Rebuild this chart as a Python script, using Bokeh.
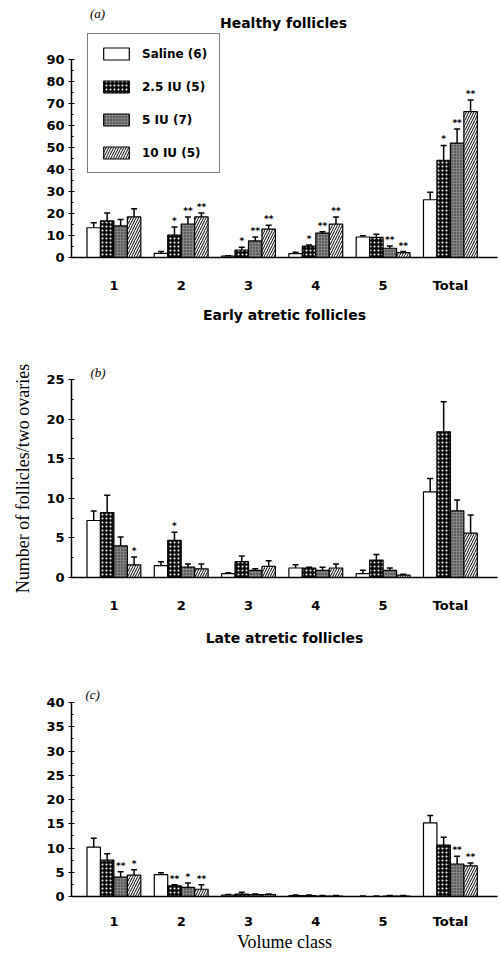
from bokeh.plotting import figure
from bokeh.models import (ColumnDataSource, Range1d, FixedTicker, Whisker, TeeHead,
                          Legend, LegendItem, Label, Title)
from bokeh.layouts import column
from bokeh.core.properties import value
from bokeh.embed import file_html
from bokeh.resources import INLINE

classes = ["1", "2", "3", "4", "5", "Total"]
series = ["Saline (6)", "2.5 IU (5)", "5 IU (7)", "10 IU (5)"]

# (a) Healthy follicles
saline_a = [13.5, 1.9, 0.6, 1.8, 9.3, 26.2]
saline_a_err = [15.8, 2.7, 0.8, 2.4, 9.9, 29.6]
iu25_a = [16.6, 10.2, 3.4, 5.2, 9.1, 44.1]
iu25_a_err = [20.2, 13.8, 4.6, 5.7, 10.5, 50.8]
iu5_a = [14.3, 15.2, 7.5, 11.1, 4.2, 51.9]
iu5_a_err = [17.2, 18.4, 9.3, 11.7, 5.2, 58.3]
iu10_a = [18.4, 18.4, 12.9, 15.1, 2.2, 66.2]
iu10_a_err = [22.1, 20.2, 14.6, 18.4, 2.7, 71.4]
stars_a = [["", "", "", "", "", ""],
           ["", "*", "*", "*", "", "*"],
           ["", "**", "**", "**", "**", "**"],
           ["", "**", "**", "**", "**", "**"]]

# (b) Early atretic follicles
saline_b = [7.2, 1.5, 0.5, 1.2, 0.5, 10.8]
saline_b_err = [8.4, 2.0, 0.6, 1.6, 0.9, 12.5]
iu25_b = [8.2, 4.7, 2.0, 1.2, 2.2, 18.4]
iu25_b_err = [10.4, 5.7, 2.7, 1.3, 2.9, 22.2]
iu5_b = [4.0, 1.3, 0.9, 0.9, 0.9, 8.4]
iu5_b_err = [5.1, 1.7, 1.1, 1.3, 1.2, 9.8]
iu10_b = [1.6, 1.1, 1.4, 1.2, 0.3, 5.6]
iu10_b_err = [2.6, 1.7, 2.1, 1.7, 0.4, 7.9]
stars_b = [["", "", "", "", "", ""],
           ["", "*", "", "", "", ""],
           ["", "", "", "", "", ""],
           ["*", "", "", "", "", ""]]

# (c) Late atretic follicles
saline_c = [10.2, 4.5, 0.3, 0.2, 0.0, 15.2]
saline_c_err = [12.0, 4.9, 0.4, 0.3, 0.1, 16.7]
iu25_c = [7.5, 2.2, 0.5, 0.2, 0.0, 10.6]
iu25_c_err = [8.8, 2.4, 0.9, 0.3, 0.1, 12.2]
iu5_c = [4.0, 1.9, 0.4, 0.1, 0.1, 6.7]
iu5_c_err = [5.1, 2.8, 0.5, 0.2, 0.2, 8.3]
iu10_c = [4.4, 1.5, 0.4, 0.1, 0.1, 6.3]
iu10_c_err = [5.5, 2.4, 0.5, 0.2, 0.2, 6.9]
stars_c = [["", "", "", "", "", ""],
           ["", "**", "", "", "", ""],
           ["**", "*", "", "", "", "**"],
           ["*", "**", "", "", "", "**"]]

OFFSETS = [-0.3, -0.1, 0.1, 0.3]
BAR_W = 0.2
STYLES = [
    dict(fill_color="white"),
    dict(fill_color="#0a0a0a", hatch_pattern="dot", hatch_color="white", hatch_scale=4, hatch_weight=0.3),
    dict(fill_color="#858585", hatch_pattern="dot", hatch_color="#1a1a1a", hatch_scale=3, hatch_weight=0.8),
    dict(fill_color="white", hatch_pattern="right_diagonal_line", hatch_color="black", hatch_scale=5, hatch_weight=1),
]
SANS = "DejaVu Sans"
SERIF = "Liberation Serif"


def make_panel(vals, errs, stars, ymax, ystep, height, axis_px, top, bottom, left,
               xstandoff=14, ylabel=None, xlabel=None):
    frame_h = height - top - bottom
    y_end = ymax * frame_h / axis_px
    p = figure(width=500, height=height, output_backend="svg", toolbar_location=None,
               title=None,
               x_range=Range1d(-0.63, 5.70), y_range=Range1d(0, y_end),
               min_border_top=top, min_border_bottom=bottom, min_border_left=left,
               min_border_right=3)
    p.outline_line_color = None
    p.xgrid.grid_line_color = None
    p.ygrid.grid_line_color = None
    p.background_fill_color = "white"
    renderers = []
    for i in range(4):
        xs = [j + OFFSETS[i] for j in range(len(classes))]
        src = ColumnDataSource(dict(x=xs, top=vals[i], err=errs[i], star=stars[i]))
        r = p.vbar(x="x", top="top", width=BAR_W, source=src, line_color="black",
                   line_width=1.2, **STYLES[i])
        renderers.append(r)
        w = Whisker(base="x", upper="err", lower="top", source=src, dimension="height",
                    lower_head=None, upper_head=TeeHead(size=6, line_width=1.5, line_color="black"),
                    line_width=1.5, line_color="black")
        p.add_layout(w)
        p.text(x="x", y="err", text="star", source=src, text_align="center",
               text_baseline="bottom", y_offset=-1, text_font=value(SANS),
               text_font_size="9px", text_font_style="bold", text_color="black")
    # axes
    p.xaxis.ticker = FixedTicker(ticks=list(range(len(classes))))
    p.xaxis.major_label_overrides = {i: c for i, c in enumerate(classes)}
    p.xaxis.major_label_standoff = xstandoff
    p.xaxis.axis_line_width = 1.5
    p.yaxis.ticker = FixedTicker(ticks=list(range(0, ymax + 1, ystep)),
                                 minor_ticks=[k * ystep / 2 for k in range(0, 2 * (ymax // ystep) + 1)])
    p.yaxis.bounds = (0, ymax)
    p.yaxis.major_tick_in = 3
    p.yaxis.major_tick_out = 3
    p.yaxis.minor_tick_in = 2
    p.yaxis.minor_tick_out = 0
    p.yaxis.axis_line_width = 1.5
    p.yaxis.major_label_standoff = 4
    for ax in (p.xaxis[0], p.yaxis[0]):
        ax.major_label_text_font = SANS
        ax.major_label_text_font_size = "13px"
        ax.major_label_text_font_style = "bold"
        ax.major_label_text_color = "black"
        ax.axis_line_color = "black"
        ax.axis_label_text_color = "black"
        ax.major_tick_line_color = "black" if ax is p.yaxis[0] else None
        ax.minor_tick_line_color = "black" if ax is p.yaxis[0] else None
    if ylabel:
        p.yaxis.axis_label = ylabel
        p.yaxis.axis_label_text_font = SERIF
        p.yaxis.axis_label_text_font_size = "18px"
        p.yaxis.axis_label_text_font_style = "normal"
        p.yaxis.axis_label_standoff = 10
    if xlabel:
        p.xaxis.axis_label = xlabel
        p.xaxis.axis_label_text_font = SERIF
        p.xaxis.axis_label_text_font_size = "18px"
        p.xaxis.axis_label_text_font_style = "normal"
        p.xaxis.axis_label_standoff = 0
    return p, renderers


def add_letter(p, letter, offset, standoff):
    p.add_layout(Title(text=letter, align="left", offset=offset, standoff=standoff,
                       text_font=SERIF, text_font_size="13px", text_font_style="italic",
                       text_color="black"), "above")


def add_next_title(p, title, standoff):
    p.add_layout(Title(text=title, align="center", standoff=standoff,
                       text_font=SANS, text_font_size="14px", text_font_style="bold",
                       text_color="black"), "below")


pa, rends = make_panel([saline_a, iu25_a, iu5_a, iu10_a],
                       [saline_a_err, iu25_a_err, iu5_a_err, iu10_a_err], stars_a,
                       90, 10, 332, 200, 2, 73, 71)
pa.add_layout(Label(x=212, y=235, x_units="screen", y_units="screen",
                    text="Healthy follicles", text_font=SANS, text_font_size="14px",
                    text_color="black", text_font_style="bold", text_align="center",
                    text_baseline="middle"))
pa.add_layout(Label(x=26, y=244, x_units="screen", y_units="screen",
                    text="(a)", text_font=SERIF, text_font_size="13px", text_color="black",
                    text_font_style="italic", text_align="center", text_baseline="middle"))
legend = Legend(items=[LegendItem(label=s, renderers=[r]) for s, r in zip(series, rends)],
                location=(16, 84), orientation="vertical",
                glyph_width=32, glyph_height=15, spacing=18, padding=12,
                label_standoff=10, label_text_font=SANS, label_text_font_size="12px",
                label_text_font_style="bold", label_text_color="black",
                border_line_color="black",
                border_line_width=1.5, background_fill_color="white", background_fill_alpha=1,
                margin=0)
pa.add_layout(legend)
add_next_title(pa, "Early atretic follicles", 19)

pb, _ = make_panel([saline_b, iu25_b, iu5_b, iu10_b],
                   [saline_b_err, iu25_b_err, iu5_b_err, iu10_b_err], stars_b,
                   25, 5, 330, 198, 47, 85, 70, ylabel="Number of follicles/two ovaries")
add_letter(pb, "(b)", 19, 0)
add_next_title(pb, "Late atretic follicles", 25)

pc, _ = make_panel([saline_c, iu25_c, iu5_c, iu10_c],
                   [saline_c_err, iu25_c_err, iu5_c_err, iu10_c_err], stars_c,
                   40, 5, 292, 197, 40, 55, 68, xstandoff=11, xlabel="Volume class")
add_letter(pc, "(c)", 14, 2)

layout = column(pa, pb, pc, spacing=0)
open("out.html", "w").write(file_html(layout, INLINE))
